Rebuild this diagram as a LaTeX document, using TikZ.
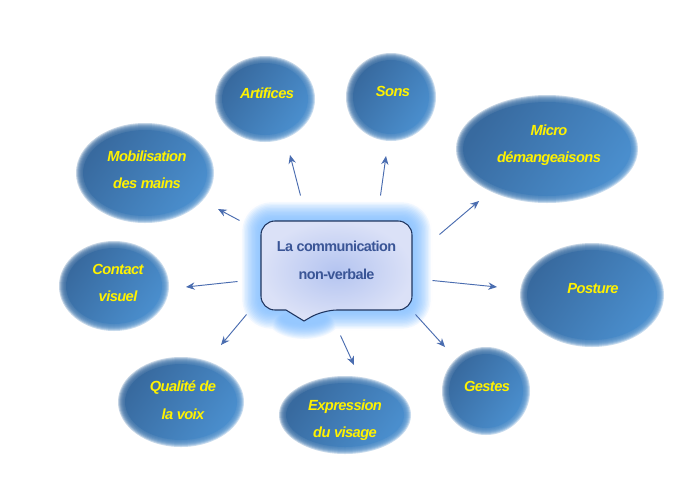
\documentclass[tikz,border=0pt]{standalone}
\usepackage{fontspec}
\setmainfont{Liberation Sans}
\usetikzlibrary{shapes.geometric,calc,arrows.meta}
\definecolor{bluedark}{HTML}{386A9F}
\definecolor{bluelight}{HTML}{4A8ECD}
\definecolor{glow}{HTML}{96C8FF}
\definecolor{hubline}{HTML}{1F3560}
\definecolor{hubtext}{HTML}{3A5596}
\definecolor{hubedge}{HTML}{DBE1F7}
\definecolor{hubcore}{HTML}{B4C4F0}
\definecolor{arrowblue}{HTML}{4A6DB0}
\tikzset{
  x=0.75pt,y=-0.75pt,
  blob/.style={ellipse,draw=none,inner sep=0pt,left color=bluedark,right color=bluelight,shading angle=55},
  blobring/.style={blob,opacity=0.3},
  bloblabel/.style={font=\fontsize{11pt}{20.6pt}\selectfont\bfseries\itshape\addfontfeature{LetterSpace=-4},text=yellow,align=center,inner sep=0pt},
  hublabel/.style={font=\fontsize{10.8pt}{20.8pt}\selectfont\bfseries\addfontfeature{LetterSpace=-4},text=hubtext,align=center,inner sep=0pt},
  conn/.style={draw=arrowblue,line width=0.7pt,-{Stealth[length=6.5pt,width=5.5pt]}},
}
% name, cx, cy, rx, ry, text dx, text dy, text
\newcommand{\blobnode}[8]{%
  \foreach \k in {2,1,0,-1,-2,-3,-4}{%
    \node[blobring,minimum width={(2*(#4+\k))*0.75pt},minimum height={(2*(#5+\k))*0.75pt}] at (#2,#3) {};
  }
  \node[blob,minimum width={(2*(#4-5))*0.75pt},minimum height={(2*(#5-5))*0.75pt}] (#1) at (#2,#3) {};
  \node[bloblabel] (#1text) at ($(#1)+(#6,#7)$) {#8};
}
\begin{document}
\begin{tikzpicture}
\useasboundingbox (0,0) rectangle (698,493);
\fill[white] (0,0) rectangle (698,493);

\blobnode{art}{265}{99}{48}{41}{2}{-6}{Artifices}
\blobnode{sons}{391}{97}{43}{42}{2}{-6}{Sons}
\blobnode{micro}{547}{149}{89}{52}{2}{-4}{Micro\\démangeaisons}
\blobnode{post}{592}{295}{70}{50}{1}{-6}{Posture}
\blobnode{gest}{486}{391}{42}{42}{1}{-5}{Gestes}
\blobnode{expr}{345}{415}{64}{37}{0}{5}{Expression\\du visage}
\blobnode{qual}{181}{402}{61}{43}{2}{-2}{Qualité de\\la voix}
\blobnode{cont}{114}{286}{53}{43}{4}{-3}{Contact\\visuel}
\blobnode{mob}{145}{173}{67}{48}{2}{-3}{Mobilisation\\des mains}

% glow round the central bubble and its tail
\foreach \i in {0,...,15}{%
  \pgfmathsetmacro{\mixv}{100-(15-\i)*(15-\i)*0.44}
  \pgfmathsetmacro{\grow}{20-\i*1.4}
  \fill[glow!\mixv!white,rounded corners={(10+\grow)*0.75pt}]
    (261-\grow,221-\grow) rectangle (412+\grow,310+\grow);
  \fill[glow!\mixv!white] (304,318) ellipse [x radius={22+\grow*0.8},y radius={6+\grow*0.8}];
}
% bubble body with its tail
\draw[hubline,line width=0.8pt,inner color=hubcore,outer color=hubedge,rounded corners=10.5pt]
  (261,221) -- (412,221) -- (412,310) -- (323,310) [sharp corners] -- (304,321) -- (286,310)
  [rounded corners=10.5pt] -- (261,310) -- cycle;
\node[hublabel,minimum width={151*0.75pt},minimum height={89*0.75pt}] (hub) at (336.5,265.5) {};
\node[hublabel] (hubtext) at ($(hub)+(0,-5)$) {La communication\\non-verbale};

\draw[conn] ($(hub)+(-36,-70)$) -- ($(art)+(25,56)$);
\draw[conn] ($(hub)+(44,-70)$) -- ($(sons)+(-5,59)$);
\draw[conn] ($(hub)+(103,-31)$) -- ($(micro)+(-68,52)$);
\draw[conn] ($(hub)+(96,15)$) -- ($(post)+(-95,-8)$);
\draw[conn] ($(hub)+(79,49)$) -- ($(gest)+(-41,-44)$);
\draw[conn] ($(hub)+(4,70)$) -- ($(expr)+(9,-50)$);
\draw[conn] ($(hub)+(-90,49)$) -- ($(qual)+(40,-57)$);
\draw[conn] ($(hub)+(-99,16)$) -- ($(cont)+(72,1)$);
\draw[conn] ($(hub)+(-97,-45)$) -- ($(mob)+(73,36)$);
\end{tikzpicture}
\end{document}
